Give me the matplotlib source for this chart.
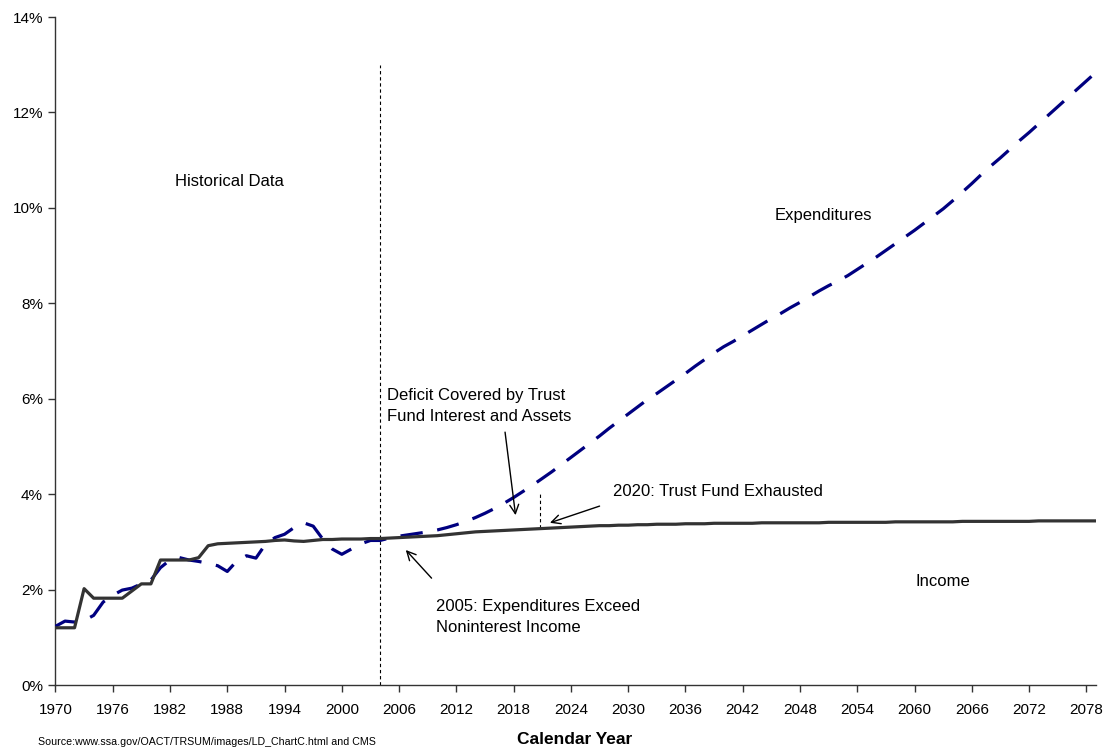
import numpy as np
import matplotlib
matplotlib.use("Agg")
import matplotlib.pyplot as plt
from matplotlib.ticker import FuncFormatter

plt.rcParams['font.family'] = ['Liberation Sans', 'DejaVu Sans']

years = list(range(1970, 2080))

# expenditures as % of GDP
expenditures = [
    1.23, 1.34, 1.32, 1.35, 1.46, 1.74, 1.88, 1.99, 2.03, 2.12,   # 1970-79
    2.20, 2.46, 2.62, 2.67, 2.62, 2.59, 2.55, 2.50, 2.38, 2.60,   # 1980-89
    2.71, 2.66, 2.95, 3.09, 3.16, 3.30, 3.40, 3.33, 3.06, 2.85,   # 1990-99
    2.74, 2.85, 2.96, 3.03, 3.03, 3.08, 3.12, 3.15, 3.18, 3.21,   # 2000-09
    3.25, 3.30, 3.36, 3.43, 3.51, 3.60, 3.70, 3.81, 3.93, 4.06,   # 2010-19
    4.19, 4.33, 4.47, 4.62, 4.77, 4.92, 5.07, 5.22, 5.38, 5.53,   # 2020-29
    5.68, 5.83, 5.98, 6.11, 6.25, 6.39, 6.53, 6.68, 6.82, 6.96,   # 2030-39
    7.09, 7.20, 7.32, 7.44, 7.56, 7.68, 7.79, 7.91, 8.02, 8.14,   # 2040-49
    8.26, 8.37, 8.47, 8.58, 8.71, 8.84, 8.97, 9.11, 9.25, 9.39,   # 2050-59
    9.53, 9.68, 9.83, 9.98, 10.15, 10.33, 10.51, 10.70, 10.88, 11.05,  # 2060-69
    11.23, 11.41, 11.58, 11.76, 11.94, 12.12, 12.30, 12.48, 12.66, 12.84,  # 2070-79
]

# income as % of GDP
income = [
    1.20, 1.20, 1.20, 2.02, 1.82, 1.82, 1.82, 1.82, 1.97, 2.12,
    2.12, 2.62, 2.62, 2.62, 2.62, 2.67, 2.92, 2.96, 2.97, 2.98,
    2.99, 3.00, 3.01, 3.03, 3.04, 3.02, 3.01, 3.03, 3.05, 3.05,
    3.06, 3.06, 3.06, 3.07, 3.07, 3.08, 3.09, 3.10, 3.11, 3.12,
    3.13, 3.15, 3.17, 3.19, 3.21, 3.22, 3.23, 3.24, 3.25, 3.26,
    3.27, 3.28, 3.29, 3.30, 3.31, 3.32, 3.33, 3.34, 3.34, 3.35,
    3.35, 3.36, 3.36, 3.37, 3.37, 3.37, 3.38, 3.38, 3.38, 3.39,
    3.39, 3.39, 3.39, 3.39, 3.40, 3.40, 3.40, 3.40, 3.40, 3.40,
    3.40, 3.41, 3.41, 3.41, 3.41, 3.41, 3.41, 3.41, 3.42, 3.42,
    3.42, 3.42, 3.42, 3.42, 3.42, 3.43, 3.43, 3.43, 3.43, 3.43,
    3.43, 3.43, 3.43, 3.44, 3.44, 3.44, 3.44, 3.44, 3.44, 3.44,
]

tick_years = list(range(1970, 2079, 6))
y_ticks = [0, 2, 4, 6, 8, 10, 12, 14]

fig = plt.figure(figsize=(11.07, 7.49), dpi=100)
ax = fig.add_axes([0.0501, 0.0854, 0.9399, 0.8919])

ax.plot(years, expenditures, color='#000080', lw=2.3, dashes=(7.0, 4.6),
        solid_capstyle='butt', dash_capstyle='butt', zorder=3)
ax.plot(years, income, color='#333333', lw=2.3, zorder=4)

# historical / projected divider
ax.plot([2004, 2004], [0, 13.0], color='black', lw=0.8, dashes=(3, 2.5), zorder=2)
# trust fund exhaustion marker
ax.plot([2020.75, 2020.75], [3.30, 4.05], color='black', lw=0.8, dashes=(3, 2.5), zorder=2)

ax.set_xlim(1970, 2079)
ax.set_ylim(0, 14)
ax.set_xticks(tick_years)
ax.set_yticks(y_ticks)
ax.yaxis.set_major_formatter(FuncFormatter(lambda v, p: '%d%%' % v))

for s in ['top', 'right']:
    ax.spines[s].set_visible(False)
for s in ['left', 'bottom']:
    ax.spines[s].set_color('#333333')
    ax.spines[s].set_linewidth(1.0)
ax.tick_params(axis='both', direction='out', length=5, width=1.0,
               color='#333333', labelsize=11, pad=4)
ax.tick_params(axis='x', pad=8)

txt = dict(fontsize=12, color='black')
ax.text(1988.2, 10.55, 'Historical Data', ha='center', va='center', **txt)
ax.text(2050.4, 9.85, 'Expenditures', ha='center', va='center', **txt)
ax.text(2063.0, 2.18, 'Income', ha='center', va='center', **txt)
ax.text(2004.7, 5.84, 'Deficit Covered by Trust\nFund Interest and Assets',
        ha='left', va='center', linespacing=1.5, **txt)
ax.text(2028.4, 4.05, '2020: Trust Fund Exhausted', ha='left', va='center', **txt)
ax.text(2009.9, 1.43, '2005: Expenditures Exceed\nNoninterest Income',
        ha='left', va='center', linespacing=1.5, **txt)

arrow = dict(arrowstyle='->', color='black', lw=1.0, mutation_scale=16,
             shrinkA=0, shrinkB=0)
ax.annotate('', xy=(2018.2, 3.56), xytext=(2017.1, 5.30), arrowprops=arrow)
ax.annotate('', xy=(2021.8, 3.40), xytext=(2027.0, 3.75), arrowprops=arrow)
ax.annotate('', xy=(2006.7, 2.83), xytext=(2009.4, 2.24), arrowprops=arrow)

fig.text(575 / 1107, 1 - 739 / 749, 'Calendar Year', ha='center', va='center',
         fontsize=12.5, fontweight='bold')
fig.text(38 / 1107, 1 - 742 / 749,
         'Source:www.ssa.gov/OACT/TRSUM/images/LD_ChartC.html and CMS',
         ha='left', va='center', fontsize=7.65)

fig.savefig('out.png', dpi=100)
